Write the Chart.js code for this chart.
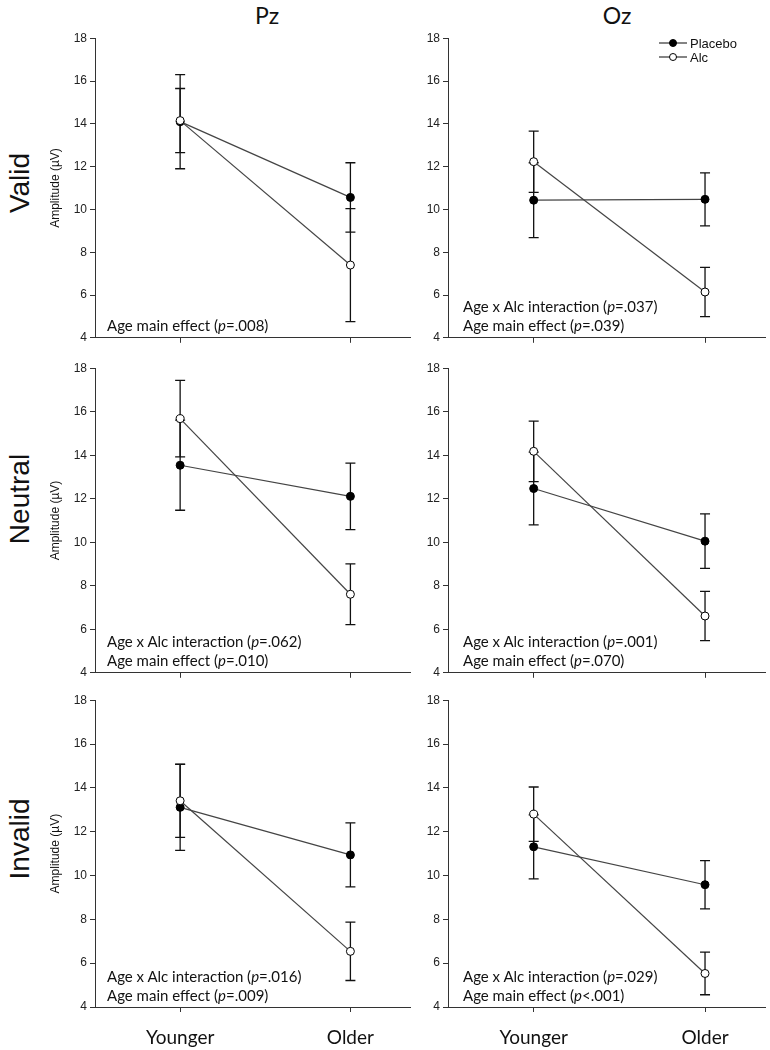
<!DOCTYPE html>
<html>
<head>
<meta charset="utf-8">
<script src="https://cdn.jsdelivr.net/npm/chart.js@4.4.1/dist/chart.umd.min.js"></script>
<style>
  body { margin: 0; background: #fff; }
  #wrap { position: relative; width: 770px; height: 1050px; overflow: hidden; }
  #wrap canvas { position: absolute; }
  .txt { position: absolute; font-family: Lato, sans-serif; color: #111; white-space: nowrap; }
  .note { font-size: 15px; line-height: 19px; }
  .colTitle { font-size: 23px; transform: translate(-50%, -50%); }
  .rowTitle { font-family: 'Liberation Sans', Arial, sans-serif; font-size: 28px; transform: translate(-50%, -50%) rotate(-90deg); }
</style>
</head>
<body>
<div id="wrap"></div>
<script>
// panels go row by row: Valid Pz, Valid Oz, Neutral Pz, Neutral Oz, Invalid Pz, Invalid Oz
const groups = ["Younger", "Older"];
const electrodes = ["Pz", "Oz"];
const conditions = ["Valid", "Neutral", "Invalid"];

const placeboMean = [[14.10, 10.56], [10.43, 10.47], [13.54, 12.11], [12.47, 10.05], [13.11, 10.94], [11.31, 9.58]];
const placeboErr  = [[2.20, 1.62],   [1.75, 1.24],   [2.07, 1.53],   [1.67, 1.25],   [1.96, 1.46],   [1.46, 1.10]];
const alcMean     = [[14.15, 7.40],  [12.23, 6.14],  [15.68, 7.61],  [14.18, 6.61],  [13.41, 6.54],  [12.80, 5.53]];
const alcErr      = [[1.50, 2.64],   [1.43, 1.15],   [1.76, 1.40],   [1.39, 1.13],   [1.67, 1.33],   [1.24, 0.97]];

const yMin = 4, yMax = 18, yStep = 2;

// [effect, p value] per panel
const notes = [
  [["Age main effect", "=.008"]],
  [["Age x Alc interaction", "=.037"], ["Age main effect", "=.039"]],
  [["Age x Alc interaction", "=.062"], ["Age main effect", "=.010"]],
  [["Age x Alc interaction", "=.001"], ["Age main effect", "=.070"]],
  [["Age x Alc interaction", "=.016"], ["Age main effect", "=.009"]],
  [["Age x Alc interaction", "=.029"], ["Age main effect", "<.001"]]
];

const wrap = document.getElementById("wrap");

// layout
const cols = [{ left: 40, width: 375, yWidth: 55, noteX: 107, titleX: 267 },
              { left: 400, width: 370, yWidth: 48, noteX: 463, titleX: 617 }];
const rows = [{ top: 28, height: 320, xH: 10, lastLine: 325, labelY: 183 },
              { top: 358, height: 325, xH: 10, lastLine: 660, labelY: 499 },
              { top: 690, height: 360, xH: 43, lastLine: 995, labelY: 839 }];

const errorBars = {
  id: "errorBars",
  beforeDatasetsDraw(chart) {
    const ctx = chart.ctx, ys = chart.scales.y;
    ctx.save();
    ctx.strokeStyle = "#111";
    ctx.lineWidth = 1.3;
    chart.data.datasets.forEach((ds, i) => {
      chart.getDatasetMeta(i).data.forEach((pt, j) => {
        const v = ds.data[j].y, e = ds.errors[j];
        const t = ys.getPixelForValue(v + e), b = ys.getPixelForValue(v - e);
        ctx.beginPath();
        ctx.moveTo(pt.x, t); ctx.lineTo(pt.x, b);
        ctx.moveTo(pt.x - 5, t); ctx.lineTo(pt.x + 5, t);
        ctx.moveTo(pt.x - 5, b); ctx.lineTo(pt.x + 5, b);
        ctx.stroke();
      });
    });
    ctx.restore();
  }
};

const lineLegend = {
  id: "lineLegend",
  afterDraw(chart, args, opts) {
    if (!opts.show) return;
    const ctx = chart.ctx;
    const x0 = chart.chartArea.right - 106;
    ctx.save();
    ctx.font = "13px 'Liberation Sans', Arial, sans-serif";
    ctx.textBaseline = "middle";
    chart.data.datasets.forEach((ds, i) => {
      const y = 15 + i * 14;
      ctx.strokeStyle = "#333";
      ctx.lineWidth = 1.2;
      ctx.beginPath(); ctx.moveTo(x0, y); ctx.lineTo(x0 + 28, y); ctx.stroke();
      ctx.beginPath(); ctx.arc(x0 + 14, y, 3.5, 0, Math.PI * 2);
      ctx.fillStyle = ds.pointBackgroundColor; ctx.fill();
      ctx.strokeStyle = "#000"; ctx.lineWidth = 1; ctx.stroke();
      ctx.fillStyle = "#111";
      ctx.fillText(ds.label, x0 + 31, y + 1);
    });
    ctx.restore();
  }
};

function makePanel(r, c) {
  const k = r * 2 + c;
  const col = cols[c], row = rows[r];
  const cv = document.createElement("canvas");
  cv.width = col.width; cv.height = row.height;
  cv.style.left = col.left + "px"; cv.style.top = row.top + "px";
  wrap.appendChild(cv);

  const series = (label, means, errs, fill, order) => ({
    label: label,
    data: means.map((m, j) => ({ x: j + 1, y: m })),
    errors: errs,
    order: order,
    borderColor: "#444",
    borderWidth: 1.2,
    pointRadius: 4,
    pointBorderWidth: 1,
    pointBackgroundColor: fill,
    pointBorderColor: "#000",
    fill: false,
    tension: 0
  });

  new Chart(cv, {
    type: "line",
    data: {
      datasets: [
        series("Placebo", placeboMean[k], placeboErr[k], "#000", 2),
        series("Alc", alcMean[k], alcErr[k], "#fff", 1)
      ]
    },
    options: {
      responsive: false,
      animation: false,
      devicePixelRatio: 1,
      layout: { padding: { top: 10, right: 2, left: 0, bottom: 0 } },
      plugins: {
        legend: { display: false },
        tooltip: { enabled: false },
        lineLegend: { show: k === 1 }
      },
      scales: {
        x: {
          type: "linear",
          min: 0.5, max: 2.35,
          afterBuildTicks: s => { s.ticks = groups.map((g, j) => ({ value: j + 1 })); },
          afterFit: s => { s.height = row.xH; },
          grid: { drawOnChartArea: false, drawTicks: true, tickLength: 5, color: "#333" },
          border: { color: "#333", width: 1 },
          ticks: {
            display: r === 2,
            padding: 14,
            color: "#111",
            font: { family: "Lato, sans-serif", size: 19 },
            callback: v => groups[v - 1] || ""
          }
        },
        y: {
          min: yMin, max: yMax,
          afterFit: s => { s.width = col.yWidth; },
          grid: { drawOnChartArea: false, drawTicks: true, tickLength: 5, color: "#333" },
          border: { color: "#333", width: 1 },
          ticks: {
            stepSize: yStep,
            padding: 3,
            color: "#222",
            font: { family: "'Liberation Sans', Arial, sans-serif", size: 12 }
          },
          title: {
            display: c === 0,
            text: "Amplitude (\u00b5V)",
            color: "#111",
            padding: { top: 8, bottom: 0 },
            font: { family: "'Liberation Sans', Arial, sans-serif", size: 12 }
          }
        }
      }
    },
    plugins: [errorBars, lineLegend]
  });

  // stats note
  const box = document.createElement("div");
  box.className = "txt note";
  box.style.left = col.noteX + "px";
  box.style.top = (row.lastLine + 10 - 19 * notes[k].length) + "px";
  notes[k].forEach(([label, p]) => {
    const line = document.createElement("div");
    line.append(label + " (");
    const it = document.createElement("i");
    it.textContent = "p";
    line.append(it, p + ")");
    box.appendChild(line);
  });
  wrap.appendChild(box);
}

electrodes.forEach((name, c) => {
  const d = document.createElement("div");
  d.className = "txt colTitle";
  d.textContent = name;
  d.style.left = cols[c].titleX + "px";
  d.style.top = "15px";
  wrap.appendChild(d);
});

conditions.forEach((name, r) => {
  const d = document.createElement("div");
  d.className = "txt rowTitle";
  d.textContent = name;
  d.style.left = "20px";
  d.style.top = rows[r].labelY + "px";
  wrap.appendChild(d);
  for (let c = 0; c < 2; c++) makePanel(r, c);
});
</script>
</body>
</html>
